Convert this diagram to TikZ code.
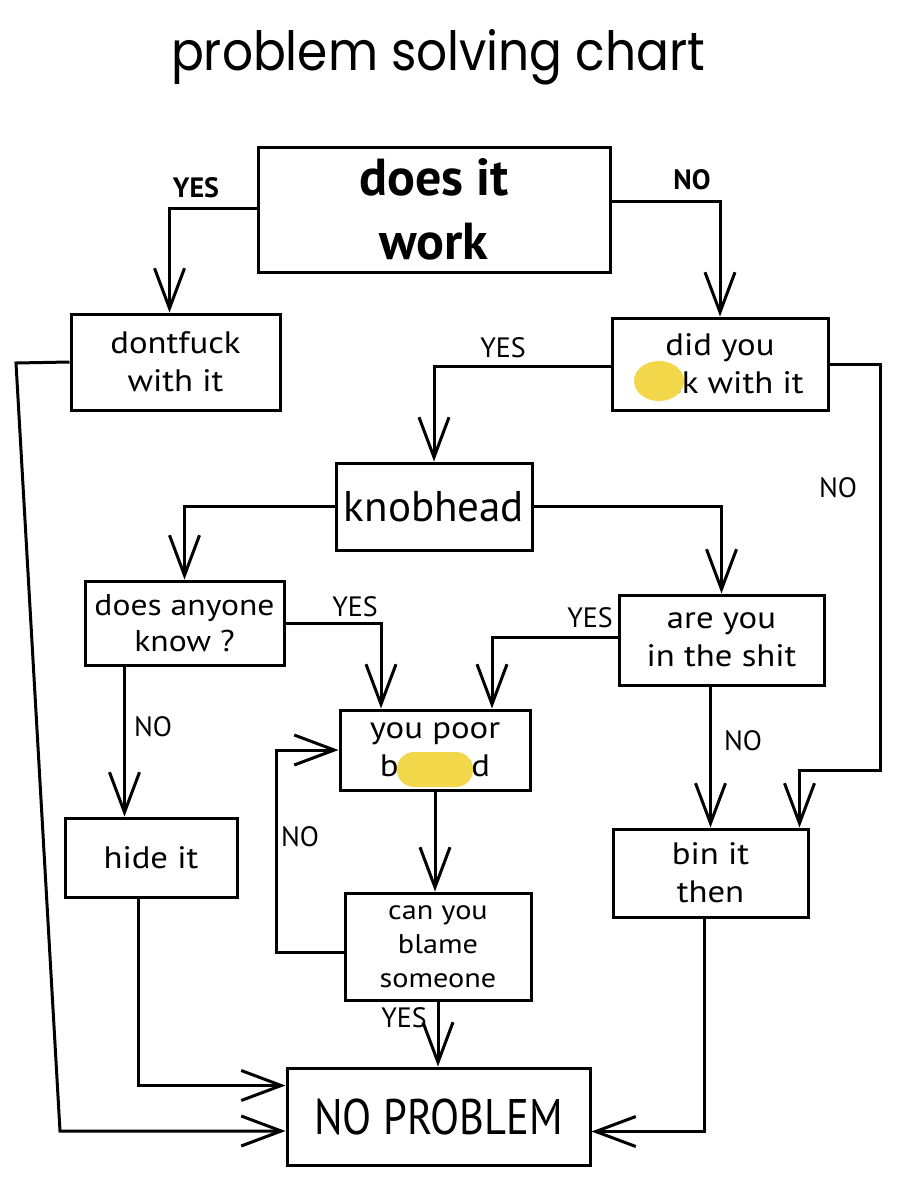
\documentclass[tikz,border=0pt]{standalone}
\usepackage{fontspec}
\setmainfont{PT Sans}
\newfontfamily\titlefont{Poppins}
\newfontfamily\handfont[FakeStretch=1.12]{PT Sans}
\newfontfamily\narrowfont[FakeStretch=0.85]{PT Sans}
\usetikzlibrary{arrows.meta}
\definecolor{blob}{HTML}{F2D74A}
\begin{document}
\begin{tikzpicture}[x=1pt,y=-1pt,
  box/.style={draw, line width=3pt, inner sep=0pt, align=center},
  conn/.style={line width=3pt, -{Straight Barb[length=40pt,width=30pt]}},
  lbl/.style={font=\fontsize{28}{30}\selectfont, inner sep=0pt},
  bt/.style={font=\handfont\fontsize{31}{38}\selectfont}]
\useasboundingbox[fill=white] (0,0) rectangle (905,1200);

\node[font=\titlefont\fontsize{54}{60}\selectfont] (title) at (438,57) {\scalebox{0.9}[1]{problem solving chart}};

\node[box, minimum width=352pt, minimum height=125pt, font=\bfseries\fontsize{52}{64}\selectfont] (work) at (434,209.5) {does it\\work};
\node[box, bt, minimum width=209pt, minimum height=96pt] (dont) at (175.5,362) {dontfuck\\with it};
\node[box, bt, minimum width=216pt, minimum height=92pt] (did) at (720,364) {did you\\fuck with it};
\node[box, minimum width=196pt, minimum height=87pt, font=\fontsize{43}{50}\selectfont] (knob) at (434,506.5) {knobhead};
\node[box, bt, minimum width=199pt, minimum height=84pt, font=\handfont\fontsize{30}{36}\selectfont] (anyone) at (184.5,623) {does anyone\\know ?};
\node[box, bt, minimum width=205pt, minimum height=90pt] (shit) at (721.5,640) {are you\\in the shit};
\node[box, bt, minimum width=190pt, minimum height=80pt] (poor) at (435,750) {you poor\\bastard};
\node[box, bt, minimum width=172pt, minimum height=79pt] (hide) at (151,857.5) {hide it};
\node[box, bt, minimum width=195pt, minimum height=88pt] (bin) at (710.5,873) {bin it\\then};
\node[box, minimum width=186pt, minimum height=107pt, font=\handfont\fontsize{27}{34}\selectfont] (blame) at (438,946.5) {can you\\blame\\someone};
\node[box, minimum width=303pt, minimum height=97pt, font=\narrowfont\fontsize{50}{56}\selectfont] (noprob) at (438.5,1116.5) {NO PROBLEM};

% censor blobs
\fill[blob] (659,381) ellipse [x radius=25pt, y radius=20pt];
\fill[blob, rounded corners=17pt] (397,752) rectangle (473,787);

% helper coordinates
\coordinate (rc) at (880,770);
\coordinate (lp) at (276,750);
\coordinate (L1) at (16,363);
\coordinate (L2) at (60,1131);
\coordinate (a1) at ([xshift=-60pt]anyone.south);

% connectors
\draw[conn] ([yshift=1pt]work.west) -| ([xshift=-6pt]dont.north);
\draw[conn] ([yshift=8pt]work.east) -| (did.north);
\draw[conn] ([yshift=-2pt]did.west) -| (knob.north);
\draw[conn] (did.east) -| (rc) -| ([xshift=89pt]bin.north);
\draw[conn] (knob.west) -| (anyone.north);
\draw[conn] (knob.east) -| (shit.north);
\draw[conn] (anyone.east) -| ([xshift=-54pt]poor.north);
\draw[conn] ([yshift=3pt]shit.west) -| ([xshift=57pt]poor.north);
\draw[conn] (a1) -- (a1 |- hide.north);
\draw[conn] (bin.north |- shit.south) -- (bin.north);
\draw[conn] (poor.south) -- (poor.south |- blame.north);
\draw[conn] ([yshift=-6pt]blame.west) -| (lp) -- (poor.west);
\draw[conn] (blame.south) -- (blame.south |- noprob.north);
\draw[conn] ([xshift=-13pt]hide.south) |- ([yshift=31pt]noprob.west);
\draw[conn] (dont.west) -- (L1) -- (L2) -- (L2 -| noprob.west);
\draw[conn] ([xshift=-6pt]bin.south) |- ([yshift=-15pt]noprob.east);

% labels
\node[lbl, font=\bfseries\fontsize{28}{30}\selectfont] (l1) at (196,188) {YES};
\node[lbl, font=\bfseries\fontsize{28}{30}\selectfont] (l2) at (692,180) {NO};
\node[lbl] (l3) at (503,348) {YES};
\node[lbl] (l4) at (838,488) {NO};
\node[lbl] (l5) at (355,607) {YES};
\node[lbl] (l6) at (590,618) {YES};
\node[lbl] (l7) at (153,727) {NO};
\node[lbl] (l8) at (743,741) {NO};
\node[lbl] (l9) at (300,837) {NO};
\node[lbl] (l10) at (404,1018) {YES};
\end{tikzpicture}
\end{document}
